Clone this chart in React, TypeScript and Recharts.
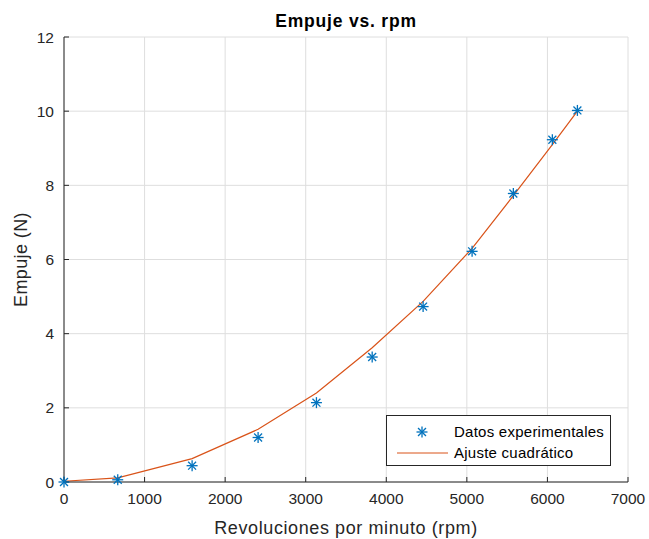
import { ComposedChart, Scatter, Line, XAxis, YAxis, CartesianGrid, Legend } from 'recharts';

const rpm = [0, 667, 1590, 2409, 3133, 3825, 4457, 5065, 5577, 6061, 6372];
const empuje = [0, 0.06, 0.44, 1.2, 2.14, 3.37, 4.73, 6.22, 7.78, 9.23, 10.02];
const ajuste = [0.02, 0.11, 0.63, 1.42, 2.4, 3.62, 4.87, 6.3, 7.72, 9.1, 10.0];
const xTicks = [0, 1000, 2000, 3000, 4000, 5000, 6000, 7000];
const yTicks = [0, 2, 4, 6, 8, 10, 12];

const data = rpm.map((r, i) => ({ rpm: r, empuje: empuje[i], ajuste: ajuste[i] }));

const FONT = '"Liberation Sans", Arial, Helvetica, sans-serif';
const AXIS = '#262626';
const BLUE = '#0072BD';
const ORANGE = '#D95319';

// MATLAB-style '*' marker
function Asterisk({ cx, cy }: { cx?: number; cy?: number }) {
  if (cx == null || cy == null) return null;
  const r = 5.5;
  const d = r * 0.72;
  return (
    <g stroke={BLUE} strokeWidth={1.3}>
      <line x1={cx} y1={cy - r} x2={cx} y2={cy + r} />
      <line x1={cx - r} y1={cy} x2={cx + r} y2={cy} />
      <line x1={cx - d} y1={cy - d} x2={cx + d} y2={cy + d} />
      <line x1={cx - d} y1={cy + d} x2={cx + d} y2={cy - d} />
    </g>
  );
}

function LegendBox() {
  return (
    <div
      style={{
        width: 225,
        height: 51,
        border: '1px solid #262626',
        background: '#fff',
        fontFamily: FONT,
        fontSize: 15,
        letterSpacing: 0.25,
        color: '#000',
        boxSizing: 'border-box',
      }}
    >
      <div style={{ display: 'flex', alignItems: 'center', height: 21, marginTop: 5 }}>
        <svg width={67} height={16}>
          <Asterisk cx={35} cy={8} />
        </svg>
        <span>Datos experimentales</span>
      </div>
      <div style={{ display: 'flex', alignItems: 'center', height: 21 }}>
        <svg width={67} height={16}>
          <line x1={10} y1={8} x2={61} y2={8} stroke={ORANGE} strokeWidth={1} />
        </svg>
        <span>Ajuste cuadrático</span>
      </div>
    </div>
  );
}

export default function App() {
  const tickStyle = { fill: AXIS, fontSize: 15.5, fontFamily: FONT };
  return (
    <div style={{ position: 'absolute', left: 0, top: 0, width: 649, height: 539, background: '#fff' }}>
      <div
        style={{
          position: 'absolute',
          left: 64,
          width: 564,
          top: 11,
          textAlign: 'center',
          fontFamily: FONT,
          fontWeight: 'bold',
          fontSize: 17.5,
          letterSpacing: 0.8,
          lineHeight: '20px',
          color: '#000',
        }}
      >
        Empuje vs. rpm
      </div>
      <ComposedChart
        width={649}
        height={539}
        data={data}
        margin={{ top: 37, right: 21, bottom: 0, left: 0 }}
      >
        <CartesianGrid stroke="#dedede" />
        <XAxis
          dataKey="rpm"
          type="number"
          domain={[0, 7000]}
          ticks={xTicks}
          height={57}
          tickSize={-5}
          tickMargin={16}
          stroke={AXIS}
          tick={tickStyle}
          interval={0}
          label={{
            value: 'Revoluciones por minuto (rpm)',
            position: 'insideBottom',
            offset: 5,
            style: { fill: AXIS, fontSize: 18, letterSpacing: 0.6, fontFamily: FONT },
          }}
        />
        <XAxis
          xAxisId="top"
          orientation="top"
          dataKey="rpm"
          type="number"
          domain={[0, 7000]}
          ticks={xTicks}
          height={0}
          tickSize={-5}
          tick={false}
          stroke={AXIS}
        />
        <YAxis
          type="number"
          domain={[0, 12]}
          ticks={yTicks}
          width={64}
          tickSize={-5}
          tickMargin={15}
          stroke={AXIS}
          tick={tickStyle}
          interval={0}
          label={{
            content: ({ viewBox }: any) => (
              <text
                x={viewBox.x + 26.5}
                y={viewBox.y + viewBox.height / 2}
                transform={`rotate(-90 ${viewBox.x + 26.5} ${viewBox.y + viewBox.height / 2})`}
                textAnchor="middle"
                fill={AXIS}
                fontSize={18}
                letterSpacing={0.4}
                fontFamily={FONT}
              >
                Empuje (N)
              </text>
            ),
          }}
        />
        <YAxis
          yAxisId="right"
          orientation="right"
          type="number"
          domain={[0, 12]}
          ticks={yTicks}
          width={0}
          tickSize={-5}
          tick={false}
          stroke={AXIS}
        />
        <Scatter
          name="Datos experimentales"
          dataKey="empuje"
          fill={BLUE}
          shape={(p: any) => <Asterisk cx={p.cx} cy={p.cy} />}
          isAnimationActive={false}
        />
        <Line
          name="Ajuste cuadrático"
          type="linear"
          dataKey="ajuste"
          stroke={ORANGE}
          strokeWidth={1.2}
          dot={false}
          activeDot={false}
          isAnimationActive={false}
        />
        <Legend
          layout="horizontal"
          align="center"
          verticalAlign="middle"
          content={() => <LegendBox />}
          wrapperStyle={{ left: 386, top: 415, width: 225, height: 51 }}
        />
      </ComposedChart>
    </div>
  );
}
